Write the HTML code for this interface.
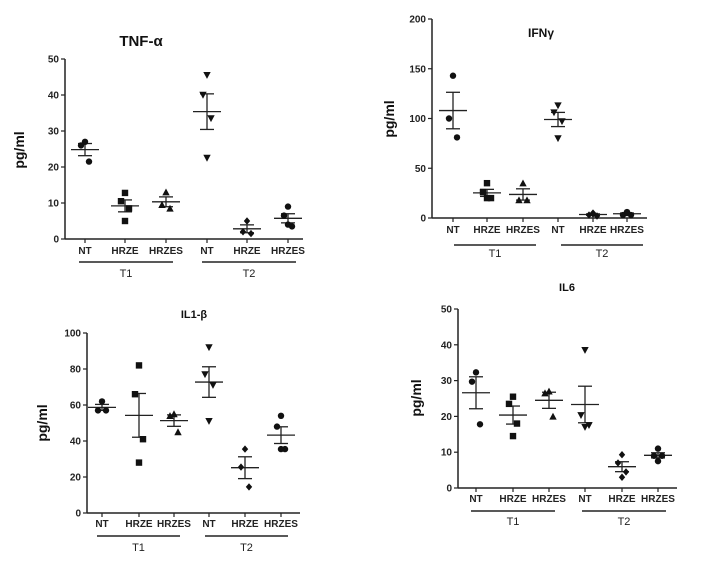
<!DOCTYPE html>
<html><head><meta charset="utf-8"><style>
body{margin:0;background:#fff;}
svg{display:block;font-family:"Liberation Sans",Arial,sans-serif;}
</style></head><body>
<svg id="fig" width="708" height="562" viewBox="0 0 708 562"></svg>
<script>
const groups = ["NT","HRZE","HRZES","NT","HRZE","HRZES"];
const markers = ["circle","square","tri-up","tri-down","diamond","hex"];
const tnfValues = [[27,26,21.5],[12.8,10.5,8.5,5],[13,9.5,8.5],[45.5,40,33.5,22.5],[5,2,1.5],[9,6.5,3.5,4]];
const tnfTicks = [0,10,20,30,40,50];
const ifnValues = [[143,100,81],[35,26,20,20],[35,18,18],[113,106,97,80],[5,3,2,4],[5,3,3,6]];
const ifnTicks = [0,50,100,150,200];
const il1Values = [[62,57,57],[82,66,41,28],[55,54,45],[92,77,71,51],[35.5,25.5,14.5],[54,48,35.5,35.5]];
const il1Ticks = [0,20,40,60,80,100];
const il6Values = [[32.3,29.7,17.8],[25.5,23.5,18,14.5],[27,26.5,20],[38.5,20.3,17.5,17],[9.3,7,4.5,3],[11,9,9,7.5]];
const il6Ticks = [0,10,20,30,40,50];

const NS="http://www.w3.org/2000/svg";
const svg=document.getElementById('fig');
function mk(tag,attrs,parent){const e=document.createElementNS(NS,tag);for(const k in attrs)e.setAttribute(k,attrs[k]);(parent||svg).appendChild(e);return e;}

const panels=[
 {name:"tnf",title:"TNF-α",vals:tnfValues,ticks:tnfTicks,max:50,ax:65,y0:239,yTop:59,axEnd:303,gx:[85,125,166,207,247,288],lblY:254,lineY:262,t1:[79,173],t2:[202,296],tY:277,titleX:141,titleY:46,titleSize:15,ylX:24,ylY:150,ylSize:14},
 {name:"ifn",title:"IFNγ",vals:ifnValues,ticks:ifnTicks,max:200,ax:432,y0:218,yTop:19,axEnd:647,gx:[453,487,523,558,593,627],lblY:233,lineY:245,t1:[454,536],t2:[561,643],tY:257,titleX:541,titleY:37,titleSize:12,ylX:394,ylY:119,ylSize:14},
 {name:"il1b",title:"IL1-β",vals:il1Values,ticks:il1Ticks,max:100,ax:87,y0:513,yTop:333,axEnd:300,gx:[102,139,174,209,245,281],lblY:527,lineY:536,t1:[97,180],t2:[205,288],tY:551,titleX:194,titleY:318,titleSize:11,ylX:47,ylY:423,ylSize:14},
 {name:"il6",title:"IL6",vals:il6Values,ticks:il6Ticks,max:50,ax:458,y0:488,yTop:309,axEnd:677,gx:[476,513,549,585,622,658],lblY:502,lineY:511,t1:[471,555],t2:[582,666],tY:525,titleX:567,titleY:291,titleSize:11,ylX:421,ylY:398,ylSize:14}
];

function marker(g,type,x,y){
 const r=3.2;let e;
 if(type==="circle"||type==="hex") e=mk('circle',{cx:x,cy:y,r:r,fill:'#111'},g);
 else if(type==="square") e=mk('rect',{x:x-r,y:y-r,width:2*r,height:2*r,fill:'#111'},g);
 else if(type==="tri-up") e=mk('polygon',{points:`${x},${y-r-0.5} ${x-r-0.5},${y+r} ${x+r+0.5},${y+r}`,fill:'#111'},g);
 else if(type==="tri-down") e=mk('polygon',{points:`${x},${y+r+0.5} ${x-r-0.5},${y-r} ${x+r+0.5},${y-r}`,fill:'#111'},g);
 else e=mk('polygon',{points:`${x},${y-r-0.5} ${x+r},${y} ${x},${y+r+0.5} ${x-r},${y}`,fill:'#111'},g);
 return e;
}

panels.forEach(p=>{
 const g=mk('g',{});
 
 
 const ys=v=>p.y0-(v/p.max)*(p.y0-p.yTop);
 const t=mk('text',{x:p.titleX,y:p.titleY,'text-anchor':'middle','font-size':p.titleSize,'font-weight':'bold',fill:'#111'},g);
 t.textContent=p.title;
 
 
 const yl=mk('text',{x:p.ylX,y:p.ylY,'text-anchor':'middle','font-size':p.ylSize,'font-weight':'bold',fill:'#111',transform:`rotate(-90 ${p.ylX} ${p.ylY})`},g);
 yl.textContent='pg/ml';
 
 
 const ya=mk('line',{x1:p.ax,y1:p.yTop,x2:p.ax,y2:p.y0,stroke:'#222','stroke-width':1.5},g);
 
 
 const xa=mk('line',{x1:p.ax,y1:p.y0,x2:p.axEnd,y2:p.y0,stroke:'#222','stroke-width':1.5},g);
 
 
 p.ticks.forEach(tv=>{
  const y=ys(tv);
  mk('line',{x1:p.ax-4,y1:y,x2:p.ax,y2:y,stroke:'#222','stroke-width':1.2},g);
  const tl=mk('text',{x:p.ax-6,y:y+3.5,'text-anchor':'end','font-size':10,'font-weight':'bold',fill:'#222'},g);
  tl.textContent=tv;
  
  
 });
 groups.forEach((gn,i)=>{
  const x=p.gx[i];
  mk('line',{x1:x,y1:p.y0,x2:x,y2:p.y0+4,stroke:'#222','stroke-width':1.2},g);
  const lb=mk('text',{x:x,y:p.lblY,'text-anchor':'middle','font-size':10,'font-weight':'bold',fill:'#222'},g);
  lb.textContent=gn;
  
  
  const vals=p.vals[i];
  const n=vals.length;
  const mean=vals.reduce((a,b)=>a+b,0)/n;
  const sd=Math.sqrt(vals.reduce((a,b)=>a+(b-mean)*(b-mean),0)/(n-1));
  const sem=sd/Math.sqrt(n);
  const sg=mk('g',{},g);
  
  
  mk('line',{x1:x-14,y1:ys(mean),x2:x+14,y2:ys(mean),stroke:'#222','stroke-width':1.3},sg);
  mk('line',{x1:x,y1:ys(mean-sem),x2:x,y2:ys(mean+sem),stroke:'#222','stroke-width':1.3},sg);
  mk('line',{x1:x-7,y1:ys(mean-sem),x2:x+7,y2:ys(mean-sem),stroke:'#222','stroke-width':1.3},sg);
  mk('line',{x1:x-7,y1:ys(mean+sem),x2:x+7,y2:ys(mean+sem),stroke:'#222','stroke-width':1.3},sg);
  const offs=n===3?[-4,4,0]:[0,-5,5,0];
  vals.forEach((v,j)=>{
   const m=marker(sg,markers[i],x+(offs[j]||0)*0+ (j%3===1?-4:(j%3===2?4:0)),ys(v));
   
   
  });
 });
 [[p.t1,'T1'],[p.t2,'T2']].forEach(([r,lab])=>{
  const l=mk('line',{x1:r[0],y1:p.lineY,x2:r[1],y2:p.lineY,stroke:'#222','stroke-width':1.5},g);
  
  
  const tt=mk('text',{x:(r[0]+r[1])/2,y:p.tY,'text-anchor':'middle','font-size':11,fill:'#222'},g);
  tt.textContent=lab;
  
  
 });
});
</script>
</body></html>
